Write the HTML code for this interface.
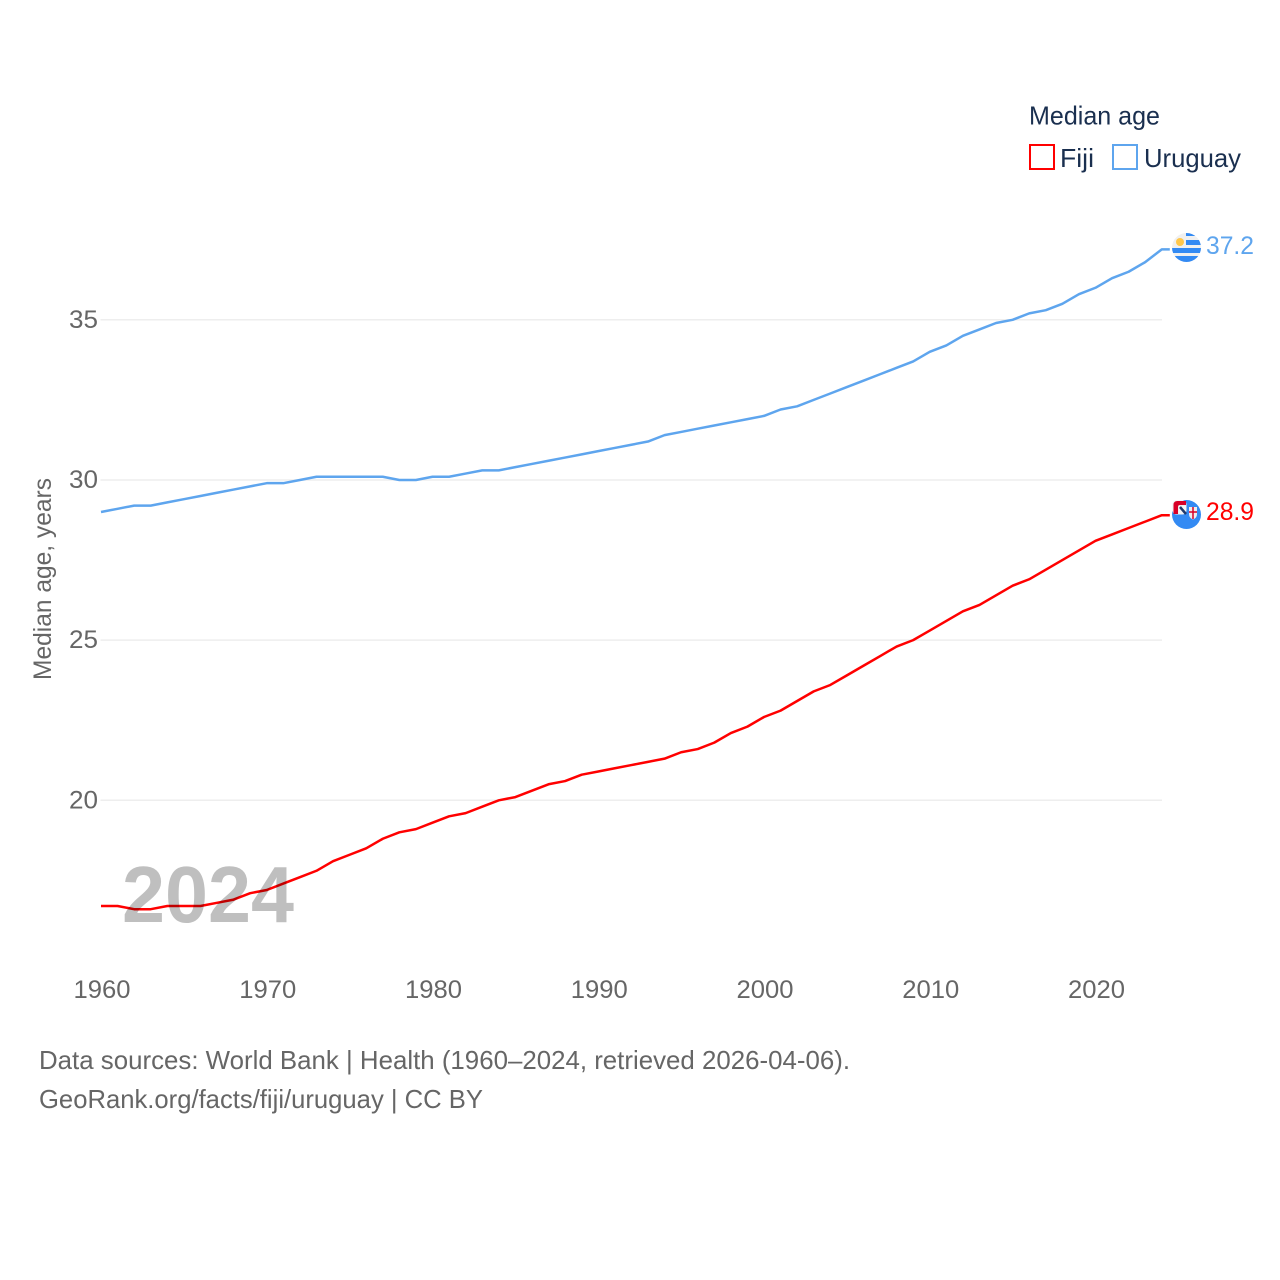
<!DOCTYPE html>
<html lang="en">
<head>
<meta charset="utf-8">
<title>Median age: Fiji and Uruguay</title>
<style>
html,body{margin:0;padding:0;background:#fff}
svg{display:block}
text{font-family:"Liberation Sans",sans-serif}
</style>
</head>
<body>
<svg id="chart" xmlns="http://www.w3.org/2000/svg" width="1280" height="1280" viewBox="0 0 1280 1280">
  <defs>
    <clipPath id="uy-clip"><circle cx="1186.5" cy="247.5" r="14.5"/></clipPath>
    <clipPath id="fj-clip"><circle cx="1186.5" cy="514.5" r="14.5"/></clipPath>
  </defs>
  <rect width="1280" height="1280" fill="#fff"/>
  <g id="grid"></g>
  <g id="yticks"></g>
  <g id="xticks"></g>
  <text transform="translate(51,680) rotate(-90)" font-size="25" fill="#666" textLength="202" lengthAdjust="spacingAndGlyphs">Median age, years</text>
  <g id="series"></g>
  <text x="122" y="922" font-size="80" font-weight="700" fill="#000" fill-opacity="0.25" textLength="172" lengthAdjust="spacingAndGlyphs">2024</text>

  <g>
    <text x="1029" y="124.5" font-size="26" fill="#1a2f4f" textLength="131" lengthAdjust="spacingAndGlyphs">Median age</text>
    <rect x="1030" y="145" width="24" height="24" fill="#fff" stroke="#ff0000" stroke-width="2"/>
    <text x="1060" y="167" font-size="26" fill="#1a2f4f" textLength="34" lengthAdjust="spacingAndGlyphs">Fiji</text>
    <rect x="1113" y="145" width="24" height="24" fill="#fff" stroke="#5ea5ee" stroke-width="2"/>
    <text x="1144" y="167" font-size="26" fill="#1a2f4f" textLength="97" lengthAdjust="spacingAndGlyphs">Uruguay</text>
  </g>

  <g clip-path="url(#uy-clip)">
    <rect x="1170" y="232" width="34" height="32" fill="#f0f0f0"/>
    <rect x="1186" y="232" width="18" height="4" fill="#338af3"/>
    <rect x="1186" y="240" width="18" height="5" fill="#338af3"/>
    <rect x="1170" y="248" width="34" height="5" fill="#338af3"/>
    <rect x="1170" y="256" width="34" height="6" fill="#338af3"/>
    <circle cx="1180" cy="242" r="4" fill="#ffc74a"/>
  </g>
  <g>
    <circle cx="1186.5" cy="514.5" r="14.5" fill="#338af3"/>
    <rect x="1172.5" y="500.5" width="14" height="14" rx="4" fill="#eeeeee"/>
    <path d="M1173.5 514v-9q0-4 4-4h8.5v4h-6q-2 0-2 2v7z" fill="#d80027"/>
    <rect x="1179" y="506" width="7" height="8" fill="#f4f4f4"/>
    <path d="M1180 507l6 7" stroke="#1f3a6e" stroke-width="2.5" fill="none"/>
    <path d="M1189 507h8v7q0 4-4 5.500q-4-1.500-4-5.500z" fill="#eeeeee"/>
    <path d="M1193 507v12M1189 512h8" stroke="#d80027" stroke-width="1.5" fill="none"/>
  </g>

  <text x="1206" y="254" font-size="25" fill="#5ea5ee" textLength="48" lengthAdjust="spacingAndGlyphs">37.2</text>
  <text x="1206" y="520" font-size="25" fill="#ff0000" textLength="48" lengthAdjust="spacingAndGlyphs">28.9</text>

  <text x="39" y="1069" font-size="26" fill="#666" textLength="811" lengthAdjust="spacingAndGlyphs">Data sources: World Bank | Health (1960–2024, retrieved 2026-04-06).</text>
  <text x="39" y="1108" font-size="26" fill="#666" textLength="444" lengthAdjust="spacingAndGlyphs">GeoRank.org/facts/fiji/uruguay | CC BY</text>
</svg>
<script>
const startYear = 1960;
const endYear = 2024;
const fijiValues = [
  16.7,16.7,16.6,16.6,16.7,16.7,16.7,16.8,16.9,17.1,
  17.2,17.4,17.6,17.8,18.1,18.3,18.5,18.8,19.0,19.1,
  19.3,19.5,19.6,19.8,20.0,20.1,20.3,20.5,20.6,20.8,
  20.9,21.0,21.1,21.2,21.3,21.5,21.6,21.8,22.1,22.3,
  22.6,22.8,23.1,23.4,23.6,23.9,24.2,24.5,24.8,25.0,
  25.3,25.6,25.9,26.1,26.4,26.7,26.9,27.2,27.5,27.8,
  28.1,28.3,28.5,28.7,28.9
];
const uruguayValues = [
  29.0,29.1,29.2,29.2,29.3,29.4,29.5,29.6,29.7,29.8,
  29.9,29.9,30.0,30.1,30.1,30.1,30.1,30.1,30.0,30.0,
  30.1,30.1,30.2,30.3,30.3,30.4,30.5,30.6,30.7,30.8,
  30.9,31.0,31.1,31.2,31.4,31.5,31.6,31.7,31.8,31.9,
  32.0,32.2,32.3,32.5,32.7,32.9,33.1,33.3,33.5,33.7,
  34.0,34.2,34.5,34.7,34.9,35.0,35.2,35.3,35.5,35.8,
  36.0,36.3,36.5,36.8,37.2
];
const yTickValues = [20, 25, 30, 35];
const xTickValues = [1960, 1970, 1980, 1990, 2000, 2010, 2020];

const NS = 'http://www.w3.org/2000/svg';
const xScale = function (year) {
  return 101 + (year - 1960) * (1095.5 - 101) / 60;
};
const yScale = function (value) {
  return 800.3 - (value - 20) * (800.3 - 319.8) / 15;
};

const gridGroup = document.getElementById('grid');
const yTickGroup = document.getElementById('yticks');
const xTickGroup = document.getElementById('xticks');
const seriesGroup = document.getElementById('series');

yTickValues.forEach(function (tick) {
  const line = document.createElementNS(NS, 'line');
  
  
  line.setAttribute('x1', 100.5);
  line.setAttribute('x2', 1162);
  line.setAttribute('y1', yScale(tick));
  line.setAttribute('y2', yScale(tick));
  line.setAttribute('stroke', '#eeeeee');
  line.setAttribute('stroke-width', 1.5);
  gridGroup.appendChild(line);

  const label = document.createElementNS(NS, 'text');
  
  
  label.setAttribute('x', 98);
  label.setAttribute('y', yScale(tick) + 8);
  label.setAttribute('text-anchor', 'end');
  label.setAttribute('font-size', 25);
  label.setAttribute('fill', '#666');
  label.setAttribute('textLength', 29);
  label.setAttribute('lengthAdjust', 'spacingAndGlyphs');
  label.textContent = tick;
  yTickGroup.appendChild(label);
});

xTickValues.forEach(function (tick) {
  const label = document.createElementNS(NS, 'text');
  
  
  label.setAttribute('x', xScale(tick) - 27.5);
  label.setAttribute('y', 998);
  label.setAttribute('font-size', 25);
  label.setAttribute('fill', '#666');
  label.setAttribute('textLength', 57);
  label.setAttribute('lengthAdjust', 'spacingAndGlyphs');
  label.textContent = tick;
  xTickGroup.appendChild(label);
});

function drawSeries(values, color, name) {
  const points = values.map(function (value, i) {
    return xScale(startYear + i).toFixed(2) + ',' + yScale(value).toFixed(2);
  });
  const lastY = yScale(values[values.length - 1]).toFixed(2);
  const connectorEnd = (xScale(endYear) + 8).toFixed(2) + ',' + lastY;
  const path = document.createElementNS(NS, 'polyline');
  
  
  path.setAttribute('points', points.join(' ') + ' ' + connectorEnd);
  path.setAttribute('fill', 'none');
  path.setAttribute('stroke', color);
  path.setAttribute('stroke-width', 2.5);
  path.setAttribute('stroke-linejoin', 'round');
  seriesGroup.appendChild(path);
}
drawSeries(uruguayValues, '#5ea5ee', 'uruguay-line');
drawSeries(fijiValues, '#ff0000', 'fiji-line');
</script>
</body>
</html>
